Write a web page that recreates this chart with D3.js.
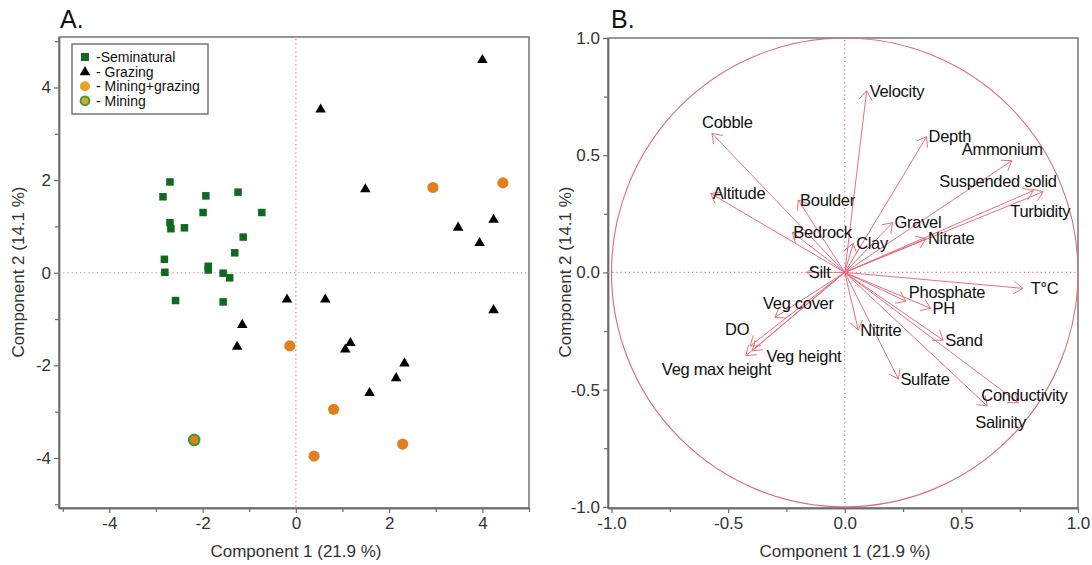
<!DOCTYPE html>
<html>
<head>
<meta charset="utf-8">
<script src="https://cdn.jsdelivr.net/npm/d3@7"></script>
<style>
  html, body { margin: 0; padding: 0; background: #fff; }
  svg { display: block; font-family: "Liberation Sans", Arial, sans-serif; }
</style>
</head>
<body>
<svg id="chart" width="1092" height="565"></svg>
<script>
// ---- Panel A: site scores on the first two components ----
const seminatural = [
  [-2.70, 1.96], [-2.85, 1.64], [-1.93, 1.66], [-1.24, 1.74], [-1.99, 1.30],
  [-0.73, 1.30], [-2.70, 1.08], [-2.68, 0.95], [-2.39, 0.97], [-1.13, 0.77],
  [-1.31, 0.43], [-2.82, 0.29], [-2.81, 0.01], [-1.88, 0.14], [-1.88, 0.06],
  [-1.56, -0.01], [-1.42, -0.11], [-2.58, -0.60], [-1.56, -0.63]
];
const grazing = [
  [0.53, 3.54], [-0.19, -0.56], [0.63, -0.56], [-1.15, -1.11], [4.00, 4.61],
  [1.49, 1.82], [3.48, 0.99], [4.24, 1.16], [3.94, 0.66], [4.24, -0.79],
  [-1.26, -1.58], [1.17, -1.50], [1.06, -1.64], [2.33, -1.94], [2.15, -2.26],
  [1.58, -2.58]
];
const miningGrazing = [
  [2.94, 1.84], [4.44, 1.94], [-0.13, -1.58], [0.81, -2.95], [0.39, -3.96], [2.29, -3.70]
];
const mining = [[-2.18, -3.61]];

const legendLabels = ["-Seminatural", "- Grazing", "- Mining+grazing", "- Mining"];
const ticksA = [-4, -2, 0, 2, 4];
const minorTicksA = [-5, -3, -1, 1, 3, 5];

// ---- Panel B: variable loadings (correlation circle) ----
const variables = [
  "Cobble", "Altitude", "Boulder", "Bedrock", "Silt", "Velocity", "Depth",
  "Ammonium", "Suspended solid", "Turbidity", "Gravel", "Nitrate", "Clay",
  "T°C", "Phosphate", "PH", "Nitrite", "Sand", "Sulfate", "Conductivity",
  "Salinity", "Veg cover", "DO", "Veg height", "Veg max height"
];
const loading1 = [
  -0.569, -0.575, -0.200, -0.225, -0.163, 0.094, 0.351,
  0.716, 0.808, 0.851, 0.205, 0.348, 0.036,
  0.763, 0.262, 0.368, 0.058, 0.422, 0.230, 0.744,
  0.611, -0.299, -0.406, -0.396, -0.424
];
const loading2 = [
  0.593, 0.337, 0.309, 0.171, 0.000, 0.775, 0.579,
  0.477, 0.349, 0.344, 0.212, 0.144, 0.124,
  -0.068, -0.123, -0.153, -0.246, -0.289, -0.455, -0.556,
  -0.570, -0.192, -0.314, -0.334, -0.355
];
const ticksB = [-1.0, -0.5, 0.0, 0.5, 1.0];
const minorTicksB = [-0.75, -0.25, 0.25, 0.75];

// label placement relative to each arrow tip, in pixels [dx, dy]
const labelOffset = {
  "Cobble": [-10, -11], "Altitude": [2, 0], "Boulder": [2, 0], "Bedrock": [1, 0],
  "Silt": [2, 0], "Velocity": [3, 0], "Depth": [2, 0], "Ammonium": [-50, -11],
  "Suspended solid": [-94, -9], "Turbidity": [-33, 19], "Gravel": [2, 0],
  "Nitrate": [2, 0], "Clay": [3, 0], "T°C": [8, 0], "Phosphate": [3, -9],
  "PH": [2, 0], "Nitrite": [2, 0], "Sand": [2, 0], "Sulfate": [2, 0],
  "Conductivity": [-37, -8], "Salinity": [-12, 16], "Veg cover": [-12, -14],
  "DO": [-25, -17], "Veg height": [14, 6], "Veg max height": [-84, 14]
};

const svg = d3.select("#chart");
const frameColor = "#6b6b6b";
const tickText = "#333";
const refColor = "#e07784";
const arrowColor = "#e8707e";

// plain hyphen for negative tick values
const locale = d3.formatLocale({ decimal: ".", thousands: ",", grouping: [3], currency: ["", ""], minus: "-" });

function drawFrame(g, x, y, ticks, minor, fmt) {
  const [x0, x1] = x.range();
  const [y0, y1] = y.range();
  g.append("rect")
    .attr("x", x0).attr("y", y0)
    .attr("width", x1 - x0).attr("height", y1 - y0)
    .attr("fill", "none").attr("stroke", frameColor).attr("stroke-width", 1.4);

  const xa = g.append("g").attr("transform", `translate(0,${y1})`)
    .call(d3.axisBottom(x).tickValues(ticks).tickFormat(fmt).tickSize(5).tickSizeOuter(0).tickPadding(4));
  const xm = g.append("g").attr("transform", `translate(0,${y1})`)
    .call(d3.axisBottom(x).tickValues(minor).tickFormat("").tickSize(4).tickSizeOuter(0));
  const ya = g.append("g").attr("transform", `translate(${x0},0)`)
    .call(d3.axisLeft(y).tickValues(ticks).tickFormat(fmt).tickSize(5).tickSizeOuter(0).tickPadding(3));
  const ym = g.append("g").attr("transform", `translate(${x0},0)`)
    .call(d3.axisLeft(y).tickValues(minor).tickFormat("").tickSize(4).tickSizeOuter(0));
  [xa, xm, ya, ym].forEach(a => {
    a.select(".domain").attr("stroke", frameColor).attr("stroke-width", 1.4);
    a.selectAll(".tick line").attr("stroke", frameColor).attr("stroke-width", 1.2);
    a.selectAll(".tick text")
      .attr("fill", tickText)
      .style("font-size", "17px")
      .style("font-family", '"Liberation Sans", Arial, sans-serif');
  });

  // dotted reference lines through the origin
  g.append("line")
    .attr("x1", x(0)).attr("x2", x(0)).attr("y1", y0 + 2).attr("y2", y1)
    .attr("stroke", refColor).attr("stroke-width", 1.2).attr("stroke-dasharray", "1.2,3");
  g.append("line")
    .attr("x1", x0).attr("x2", x1 - 2).attr("y1", y(0)).attr("y2", y(0))
    .attr("stroke", refColor).attr("stroke-width", 1.2).attr("stroke-dasharray", "1.2,3");
}

function titles(g, letter, lx, ly, cx, cy) {
  g.append("text").attr("x", lx).attr("y", 28)
    .style("font-size", "25px").attr("fill", "#111").text(letter);
  g.append("text").attr("x", cx).attr("y", 557).attr("text-anchor", "middle")
    .style("font-size", "17px").attr("fill", tickText).text("Component 1  (21.9 %)");
  g.append("text")
    .attr("transform", `translate(${ly},${cy}) rotate(-90)`)
    .attr("text-anchor", "middle")
    .style("font-size", "17px").attr("fill", tickText).text("Component 2 (14.1 %)");
}

// ---------------- Panel A ----------------
const gA = svg.append("g");
const xA = d3.scaleLinear().domain([-5.08, 5.0]).range([59, 529]);
const yA = d3.scaleLinear().domain([5.09, -5.08]).range([37, 508]);
drawFrame(gA, xA, yA, ticksA, minorTicksA, locale.format("d"));
titles(gA, "A.", 60, 24, 296, 272);

const sq = 7.5;
gA.append("g").selectAll("rect").data(seminatural).join("rect")
  .attr("x", d => xA(d[0]) - sq / 2).attr("y", d => yA(d[1]) - sq / 2)
  .attr("width", sq).attr("height", sq).attr("fill", "#0d6a1f");

const tri = d3.symbol().type(d3.symbolTriangle).size(48);
gA.append("g").selectAll("path").data(grazing).join("path")
  .attr("d", tri)
  .attr("transform", d => `translate(${xA(d[0])},${yA(d[1]) + 0.8})`)
  .attr("fill", "#000");

gA.append("g").selectAll("circle").data(miningGrazing).join("circle")
  .attr("cx", d => xA(d[0])).attr("cy", d => yA(d[1])).attr("r", 5.6)
  .attr("fill", "#e2801f");

gA.append("g").selectAll("circle").data(mining).join("circle")
  .attr("cx", d => xA(d[0])).attr("cy", d => yA(d[1])).attr("r", 5.2)
  .attr("fill", "#e2801f").attr("stroke", "#3f9a3c").attr("stroke-width", 2.2);

// legend
const leg = gA.append("g");
leg.append("rect").attr("x", 72).attr("y", 44).attr("width", 136).attr("height", 70)
  .attr("fill", "#fff").attr("stroke", "#555").attr("stroke-width", 1.2);
const legY = d => 57 + d * 14.6;
leg.append("rect").attr("x", 81).attr("y", legY(0) - 4).attr("width", 8).attr("height", 8).attr("fill", "#0d6a1f");
leg.append("path").attr("d", tri).attr("transform", `translate(85,${legY(1) + 0.5})`).attr("fill", "#000");
leg.append("circle").attr("cx", 85).attr("cy", legY(2)).attr("r", 5).attr("fill", "#e8a421");
leg.append("circle").attr("cx", 85).attr("cy", legY(3)).attr("r", 4.4)
  .attr("fill", "#e8a421").attr("stroke", "#3f9a3c").attr("stroke-width", 2);
leg.selectAll("text.lbl").data(legendLabels).join("text")
  .attr("class", "lbl")
  .attr("x", 96).attr("y", (d, i) => legY(i)).attr("dy", "0.35em")
  .style("font-size", "14px").attr("fill", "#111").text(d => d);

// ---------------- Panel B ----------------
const gB = svg.append("g");
const xB = d3.scaleLinear().domain([-1.015, 1.0]).range([608, 1078]);
const yB = d3.scaleLinear().domain([1.0, -1.005]).range([38, 508]);
drawFrame(gB, xB, yB, ticksB, minorTicksB, locale.format(".1f"));
titles(gB, "B.", 611, 571, 845, 272);

gB.append("defs").append("clipPath").attr("id", "clipB")
  .append("rect").attr("x", 608).attr("y", 38).attr("width", 470).attr("height", 470);

// unit correlation circle
gB.append("ellipse")
  .attr("clip-path", "url(#clipB)")
  .attr("cx", xB(0)).attr("cy", yB(0))
  .attr("rx", xB(1) - xB(0)).attr("ry", yB(0) - yB(1))
  .attr("fill", "none").attr("stroke", "#dc6b78").attr("stroke-width", 1.1);

const loads = variables.map((name, i) => ({ name, a: loading1[i], b: loading2[i] }));
const arrows = gB.append("g").attr("stroke", arrowColor).attr("stroke-width", 1).attr("fill", "none");
loads.forEach(d => {
  const ox = xB(0), oy = yB(0);
  const tx = xB(d.a), ty = yB(d.b);
  arrows.append("line").attr("x1", ox).attr("y1", oy).attr("x2", tx).attr("y2", ty);
  const ang = Math.atan2(oy - ty, ox - tx);
  const len = 11, spread = 0.62;
  [ang - spread, ang + spread].forEach(t => {
    arrows.append("line")
      .attr("x1", tx).attr("y1", ty)
      .attr("x2", tx + len * Math.cos(t)).attr("y2", ty + len * Math.sin(t));
  });
});

gB.append("g").selectAll("text").data(loads).join("text")
  .attr("x", d => xB(d.a) + labelOffset[d.name][0])
  .attr("y", d => yB(d.b) + labelOffset[d.name][1])
  .attr("dy", "0.35em")
  .style("font-size", "16.5px").style("letter-spacing", "-0.3px")
  .attr("fill", "#111")
  .text(d => d.name);
</script>
</body>
</html>
